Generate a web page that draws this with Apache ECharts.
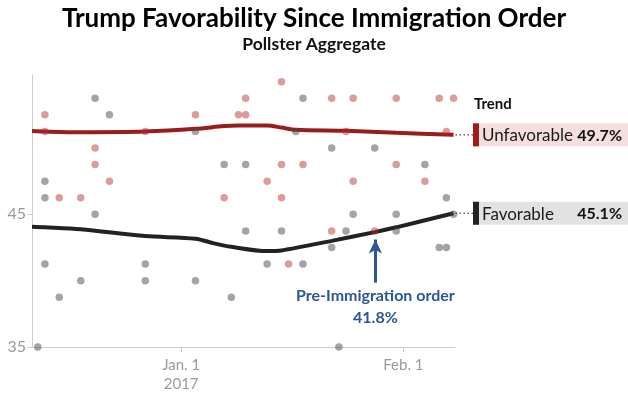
<!DOCTYPE html>
<html><head><meta charset="utf-8">
<script src="https://cdn.jsdelivr.net/npm/echarts@6/dist/echarts.min.js"></script>
<style>html,body{margin:0;padding:0;background:#fff}#c{width:628px;height:395px}</style>
</head><body><div id="c"></div>
<script>
// ---- data ----
const xTickDays = [0, 31];               // days from Jan 1 2017
const xTickLabels = ['Jan. 1\n2017', 'Feb. 1'];
const yTickValues = [35, 45];

const favorablePolls = [
  [-12, 53.75], [-10, 52.5], [2, 51.25], [-19, 47.5], [6, 48.75], [-19, 46.25], [-12, 45],
  [-19, 41.25], [-5, 41.25], [-17, 38.75], [-14, 40], [-5, 40], [2, 40], [7, 38.75], [-20, 35],
  [17, 53.75], [16, 51.25], [21, 50], [27, 50], [9, 48.75], [34, 48.75], [37, 46.25],
  [24, 45], [30, 45], [38, 45], [9, 43.75], [14, 43.75], [23, 43.75], [30, 43.75],
  [21, 42.5], [36, 42.5], [37, 42.5], [12, 41.25], [17, 41.25], [22, 35]
];
const unfavorablePolls = [
  [-19, 52.5], [-19, 51.25], [-5, 51.25], [2, 52.5], [8, 52.5], [-12, 50], [-12, 48.75],
  [-10, 47.5], [-17, 46.25], [-14, 46.25], [6, 46.25], [14, 55], [9, 53.75], [21, 53.75],
  [24, 53.75], [30, 53.75], [36, 53.75], [38, 53.75], [9, 52.5], [23, 51.25], [37, 51.25],
  [14, 48.75], [17, 48.75], [30, 48.75], [12, 47.5], [24, 47.5], [34, 47.5], [14, 46.25],
  [21, 43.75], [27, 43.75], [15, 41.25]
];
const unfavorableTrend = [
  [-20.8, 51.28], [-19, 51.24], [-14, 51.19], [-5, 51.24], [2, 51.44], [6, 51.65], [8, 51.69],
  [12, 51.69], [14, 51.54], [16, 51.37], [23, 51.29], [30, 51.14], [38, 50.99]
];
const favorableTrend = [
  [-20.8, 44.06], [-19, 44.02], [-14, 43.87], [-5, 43.36], [2, 43.16], [4.6, 42.81], [7, 42.55],
  [12, 42.23], [14, 42.28], [21, 43.0], [27, 43.66], [30, 44.02], [38, 45.08]
];
const trendNames = ['Unfavorable', 'Favorable'];
const trendLabels = ['49.7%', '45.1%'];
const preOrderDay = 27.1;
const preOrderArrow = [39.85, 43.1];
const preOrderText = ['Pre-Immigration order', '41.8%'];

// ---- chart ----
const FONT = 'Lato';
const RED = '#9b1c1c', BLACK = '#222222', BLUE = '#2e5597', AXIS = '#cccccc', LBL = '#9a9a9a';
const chart = echarts.init(document.getElementById('c'), null, {renderer: 'canvas'});
const option = {
  animation: false,
  backgroundColor: '#fff',
  title: {
    text: 'Trump Favorability Since Immigration Order',
    subtext: 'Pollster Aggregate',
    left: 'center', top: 1, itemGap: 3,
    textStyle: {fontFamily: FONT, fontWeight: 'bold', fontSize: 26, color: '#000'},
    subtextStyle: {fontFamily: FONT, fontWeight: 'bold', fontSize: 17.5, color: '#111'}
  },
  grid: {left: 32, right: 173, top: 75, bottom: 48, containLabel: false},
  xAxis: {
    type: 'value', min: -20.8, max: 38.2,
    axisLine: {show: true, onZero: false, lineStyle: {color: AXIS, width: 1}},
    axisTick: {show: true, customValues: xTickDays, length: 5, lineStyle: {color: AXIS}},
    axisLabel: {
      customValues: xTickDays, color: LBL, fontFamily: FONT, fontSize: 15, lineHeight: 19, margin: 9,
      formatter: v => xTickLabels[xTickDays.indexOf(v)]
    },
    splitLine: {show: false}
  },
  yAxis: {
    type: 'value', min: 35, max: 55.5,
    axisLine: {show: true, onZero: false, lineStyle: {color: AXIS, width: 1}},
    axisTick: {show: true, customValues: yTickValues, length: 4, lineStyle: {color: AXIS}},
    axisLabel: {customValues: yTickValues, color: LBL, fontFamily: FONT, fontSize: 16, margin: 6},
    splitLine: {show: false}
  },
  series: [
    {
      type: 'line', name: 'Unfavorable', data: unfavorableTrend, smooth: 0.3, symbol: 'none', z: 2,
      lineStyle: {color: RED, width: 4}
    },
    {
      type: 'line', name: 'Favorable', data: favorableTrend, smooth: 0.3, symbol: 'none', z: 2,
      lineStyle: {color: BLACK, width: 4},
      markLine: {
        silent: true, symbol: ['none', 'arrow'], symbolSize: [10, 14],
        label: {show: false},
        lineStyle: {color: BLUE, width: 3, type: 'solid'},
        data: [[{coord: [preOrderDay, preOrderArrow[0]]}, {coord: [preOrderDay, preOrderArrow[1]]}]]
      }
    },
    {
      type: 'scatter', name: 'FavPolls', data: favorablePolls, symbolSize: 7.5, z: 3,
      itemStyle: {color: 'rgba(70,70,70,0.62)'}
    },
    {
      type: 'scatter', name: 'UnfavPolls', data: unfavorablePolls, symbolSize: 7.5, z: 3,
      itemStyle: {color: 'rgba(178,40,40,0.58)'}
    }
  ]
};
chart.setOption(option);

// ---- side labels and annotation ----
const pU = chart.convertToPixel({gridIndex: 0}, unfavorableTrend[unfavorableTrend.length - 1]);
const pF = chart.convertToPixel({gridIndex: 0}, favorableTrend[favorableTrend.length - 1]);
const pA = chart.convertToPixel({gridIndex: 0}, [preOrderDay, preOrderArrow[0]]);
const boxX = 473, boxW = 160, boxH = 23, textRight = 622;
function sideBox(p, name, val, bar, bg, dotColor) {
  return [
    {type: 'line', shape: {x1: p[0] + 2, y1: p[1], x2: boxX, y2: p[1]},
     style: {stroke: dotColor, lineWidth: 1.2, lineDash: [1.5, 2.5]}},
    {type: 'rect', shape: {x: boxX, y: p[1] - boxH / 2, width: boxW, height: boxH}, style: {fill: bg}},
    {type: 'rect', shape: {x: boxX, y: p[1] - boxH / 2, width: 6, height: boxH}, style: {fill: bar}},
    {type: 'text', x: boxX + 9, y: p[1] + 1,
     style: {text: name, fill: '#1a1a1a', font: '17px ' + FONT, verticalAlign: 'middle', align: 'left'}},
    {type: 'text', x: textRight, y: p[1] + 1,
     style: {text: val, fill: '#111', font: 'bold 16px ' + FONT, verticalAlign: 'middle', align: 'right'}}
  ];
}
chart.setOption({
  graphic: [
    {type: 'text', x: 474, y: 104,
     style: {text: 'Trend', fill: '#111', font: 'bold 15px ' + FONT, verticalAlign: 'middle'}},
    ...sideBox(pU, trendNames[0], trendLabels[0], RED, '#f4dede', RED),
    ...sideBox(pF, trendNames[1], trendLabels[1], BLACK, '#e2e2e2', BLACK),
    {type: 'text', x: pA[0], y: pA[1] + 13,
     style: {text: preOrderText[0], fill: BLUE, font: 'bold 16px ' + FONT, align: 'center', verticalAlign: 'middle'}},
    {type: 'text', x: pA[0], y: pA[1] + 35,
     style: {text: preOrderText[1], fill: BLUE, font: 'bold 16px ' + FONT, align: 'center', verticalAlign: 'middle'}}
  ]
});
</script></body></html>
